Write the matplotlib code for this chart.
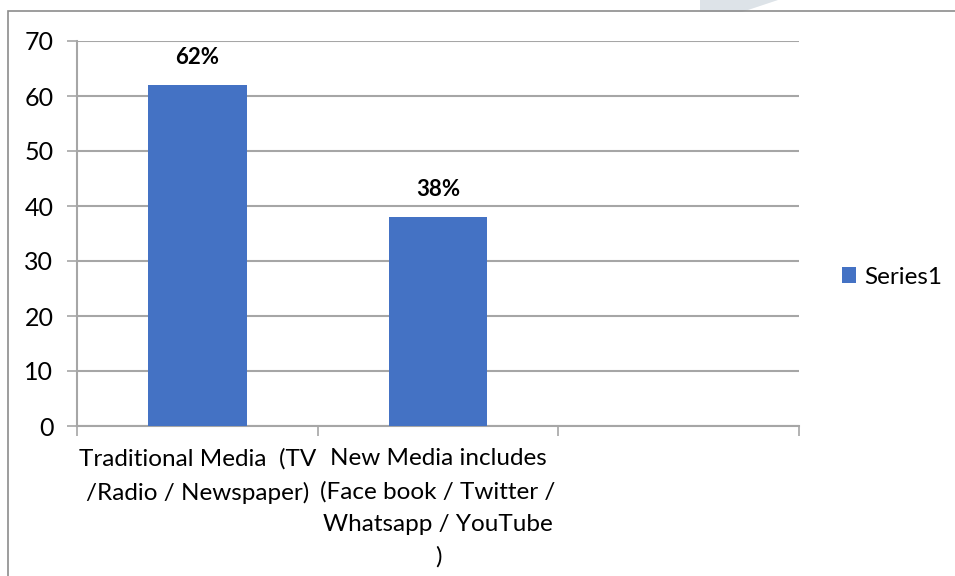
import matplotlib
matplotlib.use("Agg")
import matplotlib.pyplot as plt
from matplotlib.patches import Rectangle, Polygon

plt.rcParams['font.family'] = ['Lato', 'DejaVu Sans']

categories = ["Traditional Media  (TV\n/Radio / Newspaper)",
              "New Media includes\n(Face book / Twitter /\nWhatsapp / YouTube\n)",
              ""]
values = [62, 38]
value_labels = ["62%", "38%"]
series_name = "Series1"
yticks = [0, 10, 20, 30, 40, 50, 60, 70]

bar_color = "#4472C4"
grid_color = "#A6A6A6"

fig = plt.figure(figsize=(9.55, 5.76), dpi=100)
# watermark
fig.patches.append(Polygon([(700/955, 1), (778/955, 1), (742/955, 1-12/576), (700/955, 1-12/576)],
                           closed=True, transform=fig.transFigure, facecolor="#DDE3E8", edgecolor="none", zorder=0))
# outer frame
fig.patches.append(Rectangle((8/955, -0.1), 1.2, 1.1 - 11/576, transform=fig.transFigure,
                             fill=False, edgecolor="#8C8C8C", linewidth=1.2, zorder=1))

ax = fig.add_axes([77/955, 150/576, 722/955, 385/576])
x = list(range(len(categories)))
ax.bar(x[:len(values)], values, width=0.41, color=bar_color, zorder=3, label=series_name)
for xi, v, lab in zip(x, values, value_labels):
    ax.annotate(lab, (xi, v), xytext=(0, 20), textcoords="offset points",
                ha="center", va="center", fontsize=16, fontweight="bold", color="black")

ax.set_xlim(-0.5, len(categories) - 0.5)
ax.set_ylim(0, 70)
ax.set_yticks(yticks)
ax.yaxis.grid(True, color=grid_color, linewidth=1.5, zorder=0)
ax.set_axisbelow(True)

ax.set_xticks(x)
ax.set_xticklabels(categories, fontsize=17.5, linespacing=1.66, va="top")
ax.tick_params(axis="x", which="major", length=0, pad=16)
ax.set_xticks([i - 0.5 for i in range(len(categories) + 1)], minor=True)
ax.tick_params(axis="x", which="minor", length=7, width=1.2, color=grid_color, direction="out")
ax.tick_params(axis="y", length=7, width=1.2, color=grid_color, labelsize=18, pad=10)

for s in ["top", "right"]:
    ax.spines[s].set_visible(False)
for s in ["left", "bottom"]:
    ax.spines[s].set_color(grid_color)
    ax.spines[s].set_linewidth(1.5)

leg = ax.legend(loc="center left", bbox_to_anchor=(820/955, 299/576), bbox_transform=fig.transFigure,
                frameon=False, fontsize=17.5, handlelength=0.6, handleheight=0.6, handletextpad=0.3)

fig.savefig("out.png", dpi=100)
